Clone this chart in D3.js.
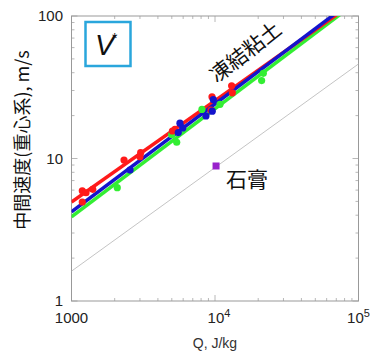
<!DOCTYPE html>
<html>
<head>
<meta charset="utf-8">
<script src="https://cdn.jsdelivr.net/npm/d3@7"></script>
<style>
  body { margin: 0; background: #fff; }
  svg { font-family: "Liberation Sans", Arial, sans-serif; }
</style>
</head>
<body>
<svg id="chart" width="371" height="356"></svg>
<script>
// frozen clay, three series (Q J/kg, V m/s)
const redQ = [1189, 1262, 1406, 1189, 2323, 3034, 3000, 5050, 5260, 9380, 9530, 13060, 13200]
const redV = [5.94, 5.75, 6.08, 4.95, 9.76, 10.98, 10.3, 15.6, 16.0, 21.9, 27.1, 32.4, 28.9]
const blueQ = [2559, 5546, 5700, 5960, 8650, 9570, 9730]
const blueV = [8.30, 15.2, 17.7, 16.4, 19.9, 21.5, 25.9]
const greenQ = [2084, 4990, 5410, 8110, 10840, 21130, 21720]
const greenV = [6.24, 14.7, 13.0, 22.1, 24.0, 35.2, 39.6]
// gypsum
const gypsumQ = [10170]
const gypsumV = [8.86]
// fitted power laws: V at Q=1000 and slope
const fitV0 = {red: 4.95, blue: 4.22, green: 3.89, gray: 1.62}
const fitSlope = {red: 0.711, blue: 0.757, green: 0.759, gray: 0.727}
const xTicks = [1000, 10000, 100000]
const yTicks = [1, 10, 100]

const svg = d3.select("#chart")
const x = d3.scaleLog().domain([1000, 100000]).range([71.5, 358.5])
const y = d3.scaleLog().domain([1, 100]).range([301, 16])

svg.append("clipPath").attr("id", "clip")
    .append("rect")
    .attr("x", x(1000)).attr("y", y(100))
    .attr("width", x(100000) - x(1000)).attr("height", y(1) - y(100))

// minor + major ticks, drawn inward on all four sides
const xMinor = [], yMinor = []
for (let d = 1000; d < 100000; d *= 10)
    for (let k = 2; k < 10; k++) xMinor.push(d * k)
for (let d = 1; d < 100; d *= 10)
    for (let k = 2; k < 10; k++) yMinor.push(d * k)

const ticks = svg.append("g").attr("stroke", "#b8b8b8").attr("stroke-width", 1)
function xt(vals, len) {
    ticks.selectAll(null).data(vals).join("line")
        .attr("x1", d => x(d)).attr("x2", d => x(d))
        .attr("y1", y(1)).attr("y2", y(1) - len)
    ticks.selectAll(null).data(vals).join("line")
        .attr("x1", d => x(d)).attr("x2", d => x(d))
        .attr("y1", y(100)).attr("y2", y(100) + len)
}
function yt(vals, len) {
    ticks.selectAll(null).data(vals).join("line")
        .attr("y1", d => y(d)).attr("y2", d => y(d))
        .attr("x1", x(1000)).attr("x2", x(1000) + len)
    ticks.selectAll(null).data(vals).join("line")
        .attr("y1", d => y(d)).attr("y2", d => y(d))
        .attr("x1", x(100000)).attr("x2", x(100000) - len)
}
xt(xMinor, 3); xt(xTicks, 6)
yt(yMinor, 3); yt(yTicks, 6)

svg.append("rect")
    .attr("x", x(1000)).attr("y", y(100))
    .attr("width", x(100000) - x(1000)).attr("height", y(1) - y(100))
    .attr("fill", "none").attr("stroke", "#999").attr("stroke-width", 1)

// fit lines
const lines = svg.append("g").attr("clip-path", "url(#clip)")
function fit(key, color, w) {
    const qs = [1000, 100000]
    lines.append("path")
        .datum(qs)
        .attr("fill", "none")
        .attr("stroke", color)
        .attr("stroke-width", w)
        .attr("d", d3.line()
            .x(q => x(q))
            .y(q => y(fitV0[key] * Math.pow(q / 1000, fitSlope[key]))))
}
fit("gray", "#c4c4c4", 1)
fit("green", "#33ee33", 3.5)
fit("red", "#ff1a1a", 3.5)
fit("blue", "#1414cc", 3.5)

// points
function pts(qs, vs, color) {
    svg.append("g").selectAll("circle")
        .data(qs)
        .join("circle")
        .attr("cx", d => x(d))
        .attr("cy", (d, i) => y(vs[i]))
        .attr("r", 3.6)
        .attr("fill", color)
}
pts(greenQ, greenV, "#33ee33")
pts(redQ, redV, "#ff1a1a")
pts(blueQ, blueV, "#1414cc")

svg.append("g").selectAll("rect")
    .data(gypsumQ)
    .join("rect")
    .attr("x", d => x(d) - 3.5)
    .attr("y", (d, i) => y(gypsumV[i]) - 3.5)
    .attr("width", 7).attr("height", 7)
    .attr("fill", "#9922cc")

// tick labels
svg.append("g").selectAll("text")
    .data(yTicks)
    .join("text")
    .attr("x", 63)
    .attr("y", d => y(d))
    .attr("dy", "0.36em")
    .attr("text-anchor", "end")
    .attr("font-size", 15)
    .attr("fill", "#222")
    .text(d => d)

const xl = svg.append("g").attr("font-size", 15).attr("fill", "#222")
xl.append("text").attr("x", x(1000)).attr("y", 323)
    .attr("text-anchor", "middle").text("1000")
xTicks.slice(1).forEach((d, i) => {
    const t = xl.append("text").attr("x", x(d) + (i === 0 ? 4 : 0)).attr("y", 323)
        .attr("text-anchor", "middle")
    t.append("tspan").text("10")
    t.append("tspan").attr("dy", -6).attr("font-size", 11)
        .text(Math.round(Math.log10(d)))
})

svg.append("text")
    .attr("x", 215).attr("y", 348)
    .attr("text-anchor", "middle")
    .attr("font-size", 14)
    .attr("fill", "#333")
    .text("Q, J/kg")

svg.append("text")
    .attr("transform", "translate(29,140) rotate(-90)")
    .attr("text-anchor", "middle")
    .attr("font-family", "'Noto Sans CJK JP', sans-serif")
    .attr("font-size", 18)
    .attr("fill", "#111")
    .text("中間速度(重心系), m/s")

// legend box
svg.append("rect")
    .attr("x", 85.5).attr("y", 22)
    .attr("width", 45).attr("height", 44)
    .attr("fill", "#fff").attr("stroke", "#2aa6dc").attr("stroke-width", 2.5)
svg.append("text")
    .attr("x", 95).attr("y", 55)
    .attr("font-size", 29)
    .attr("font-style", "italic")
    .attr("fill", "#111")
    .text("V")
svg.append("text")
    .attr("x", 112).attr("y", 43)
    .attr("font-size", 14)
    .attr("fill", "#111")
    .text("*")

svg.append("text")
    .attr("transform", "translate(250,58) rotate(-38)")
    .attr("text-anchor", "middle")
    .attr("font-family", "'Noto Sans CJK JP', sans-serif")
    .attr("font-size", 21)
    .attr("fill", "#111")
    .text("凍結粘土")

svg.append("text")
    .attr("x", 226).attr("y", 187)
    .attr("font-family", "'Noto Sans CJK JP', sans-serif")
    .attr("font-size", 21)
    .attr("fill", "#111")
    .text("石膏")
</script>
</body>
</html>
